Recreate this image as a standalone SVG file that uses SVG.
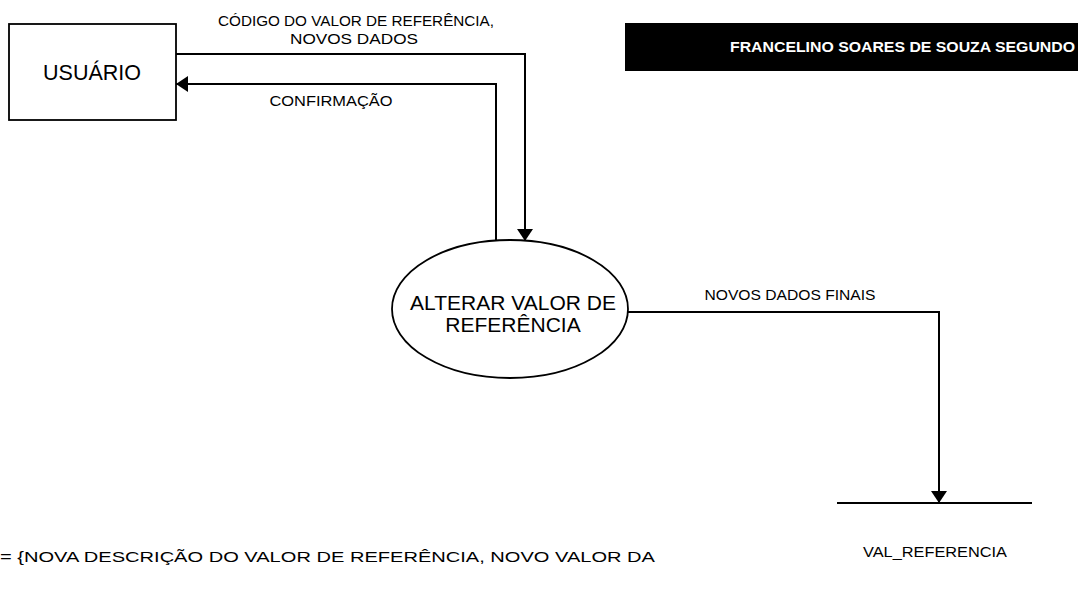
<svg xmlns="http://www.w3.org/2000/svg" width="1078" height="596" viewBox="0 0 1078 596">
<style>
.t{font-family:"Liberation Sans",Arial,sans-serif;fill:#000}
.lb{font-size:14px}
.ln{fill:none;stroke:#000;stroke-width:2}
.sh{fill:#fff;stroke:#000;stroke-width:1.8}
</style>
<defs>
<marker id="ah" markerUnits="userSpaceOnUse" markerWidth="12" markerHeight="16" viewBox="0 0 12 16" refX="12" refY="8" orient="auto">
<path d="M0,0 L12,8 L0,16 Z" fill="#000"/>
</marker>
</defs>
<rect width="1078" height="596" fill="#fff"/>
<g id="banner">
<rect x="625" y="23" width="453" height="48" fill="#000"/>
<text class="t" x="1075" y="52" text-anchor="end" font-size="15.5" font-weight="bold" style="fill:#fff" textLength="345" lengthAdjust="spacingAndGlyphs">FRANCELINO SOARES DE SOUZA SEGUNDO</text>
</g>
<g id="usuario">
<rect class="sh" x="9" y="24" width="167" height="96"/>
<text class="t" x="92" y="80" text-anchor="middle" font-size="21.5">USUÁRIO</text>
</g>
<g id="alterar">
<ellipse class="sh" cx="510" cy="309" rx="118" ry="69"/>
<text class="t" x="513" y="310" text-anchor="middle" font-size="21">ALTERAR VALOR DE</text>
<text class="t" x="513" y="332" text-anchor="middle" font-size="21">REFERÊNCIA</text>
</g>
<g id="val_referencia">
<line class="ln" x1="837" y1="503" x2="1032" y2="503"/>
<text class="t" x="935" y="557" text-anchor="middle" font-size="14" textLength="144" lengthAdjust="spacingAndGlyphs">VAL_REFERENCIA</text>
</g>
<g id="connectors">
<polyline class="ln" points="176,54 525,54 525,241" marker-end="url(#ah)"/>
<polyline class="ln" points="496,241 496,84 176,84" marker-end="url(#ah)"/>
<polyline class="ln" points="628,312 939,312 939,503" marker-end="url(#ah)"/>
<text class="t lb" x="356" y="26" text-anchor="middle" textLength="276" lengthAdjust="spacingAndGlyphs">CÓDIGO DO VALOR DE REFERÊNCIA,</text>
<text class="t lb" x="354" y="44" text-anchor="middle" textLength="128" lengthAdjust="spacingAndGlyphs">NOVOS DADOS</text>
<text class="t lb" x="331" y="106" text-anchor="middle" textLength="123" lengthAdjust="spacingAndGlyphs">CONFIRMAÇÃO</text>
<text class="t lb" x="790" y="300" text-anchor="middle" textLength="171" lengthAdjust="spacingAndGlyphs">NOVOS DADOS FINAIS</text>
</g>
<text class="t lb" x="0" y="562" textLength="655" lengthAdjust="spacingAndGlyphs">= {NOVA DESCRIÇÃO DO VALOR DE REFERÊNCIA, NOVO VALOR DA</text>
</svg>
